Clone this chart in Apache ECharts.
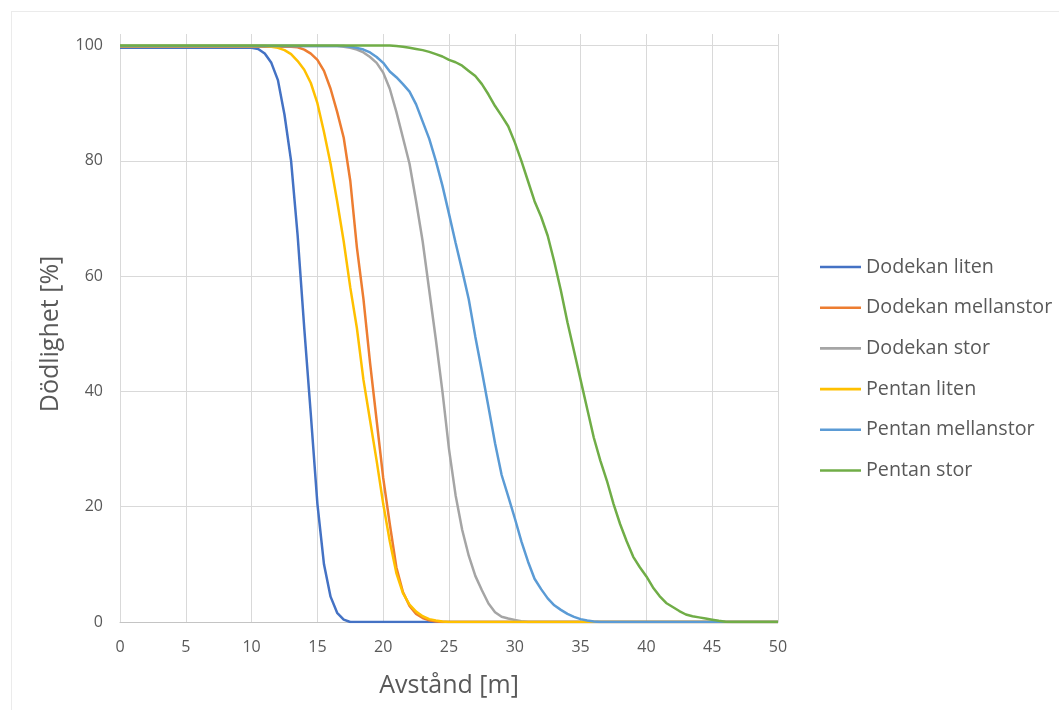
<!DOCTYPE html>
<html>
<head>
<meta charset="utf-8">
<script src="https://cdn.jsdelivr.net/npm/echarts@6/dist/echarts.min.js"></script>
<style>html,body{margin:0;padding:0;background:#fff;}#c{width:1059px;height:710px;}</style>
</head>
<body>
<div id="c"></div>
<script>
const seriesNames = ['Dodekan liten', 'Dodekan mellanstor', 'Dodekan stor', 'Pentan liten', 'Pentan mellanstor', 'Pentan stor'];
const xTicks = [0, 5, 10, 15, 20, 25, 30, 35, 40, 45, 50];
const yTicks = [0, 20, 40, 60, 80, 100];

const dodekanLitenX = [0, 10, 10.5, 11, 11.5, 12, 12.5, 13, 13.5, 14, 14.5, 15, 15.5, 16, 16.5, 17, 17.5, 50];
const dodekanLitenY = [99.6, 99.6, 99.4, 98.6, 97, 94, 88, 80, 67, 51, 36, 20.5, 10, 4.4, 1.6, 0.4, 0, 0];

const dodekanMellanX = [0, 13, 13.5, 14, 14.5, 15, 15.5, 16, 16.5, 17, 17.5, 18, 18.5, 19, 19.5, 20, 20.5, 21, 21.5, 22, 22.5, 23, 23.5, 24, 24.5, 50];
const dodekanMellanY = [99.8, 99.8, 99.7, 99.3, 98.6, 97.5, 95.6, 92.5, 88.5, 84, 76.5, 65, 56, 45, 35, 25, 17, 9.5, 5.2, 2.8, 1.4, 0.7, 0.3, 0.1, 0, 0];

const dodekanStorX = [0, 16.5, 17, 17.5, 18, 18.5, 19, 19.5, 20, 20.5, 21, 21.5, 22, 22.5, 23, 23.5, 24, 24.5, 25, 25.5, 26, 26.5, 27, 27.5, 28, 28.5, 29, 29.5, 30, 30.5, 31, 50];
const dodekanStorY = [99.9, 99.9, 99.8, 99.6, 99.3, 98.8, 98, 97, 95.3, 92.5, 88.5, 84, 79.5, 73, 66, 57.5, 49, 40, 30, 22, 16, 11.5, 8, 5.5, 3.2, 1.7, 0.9, 0.6, 0.35, 0.15, 0, 0];

const pentanLitenX = [0, 11, 11.5, 12, 12.5, 13, 13.5, 14, 14.5, 15, 15.5, 16, 16.5, 17, 17.5, 18, 18.5, 19, 19.5, 20, 20.5, 21, 21.5, 22, 22.5, 23, 23.5, 24, 24.5, 25, 50];
const pentanLitenY = [99.9, 99.9, 99.8, 99.6, 99.2, 98.5, 97.3, 95.8, 93.5, 90, 85, 79.5, 73, 66, 58, 51, 42, 35, 28, 20.5, 14, 8.5, 5, 3, 1.8, 1, 0.5, 0.25, 0.1, 0, 0];

const pentanMellanX = [0, 17, 17.5, 18, 18.5, 19, 19.5, 20, 20.5, 21, 21.5, 22, 22.5, 23, 23.5, 24, 24.5, 25, 25.5, 26, 26.5, 27, 27.5, 28, 28.5, 29, 29.5, 30, 30.5, 31, 31.5, 32, 32.5, 33, 33.5, 34, 34.5, 35, 35.5, 36, 36.5, 50];
const pentanMellanY = [99.9, 99.9, 99.8, 99.6, 99.3, 98.8, 98, 97, 95.5, 94.5, 93.3, 92, 89.8, 86.8, 83.8, 80, 75.7, 70.8, 65.8, 61, 56, 49.5, 43.5, 37.3, 31, 25.5, 21.8, 18, 14, 10.5, 7.5, 5.7, 4.1, 2.9, 2.1, 1.4, 0.9, 0.5, 0.25, 0.1, 0, 0];

const pentanStorX = [0, 20.5, 21, 21.5, 22, 22.5, 23, 23.5, 24, 24.5, 25, 25.5, 26, 26.5, 27, 27.5, 28, 28.5, 29, 29.5, 30, 30.5, 31, 31.5, 32, 32.5, 33, 33.5, 34, 34.5, 35, 35.5, 36, 36.5, 37, 37.5, 38, 38.5, 39, 39.5, 40, 40.5, 41, 41.5, 42, 42.5, 43, 43.5, 44, 44.5, 45, 45.5, 46, 46.5, 50];
const pentanStorY = [100, 100, 99.9, 99.8, 99.6, 99.4, 99.2, 98.9, 98.5, 98.1, 97.5, 97.1, 96.5, 95.6, 94.7, 93.3, 91.5, 89.5, 87.8, 86, 83.2, 80, 76.5, 73, 70.3, 67, 62.5, 57.5, 52, 47, 42, 37, 32, 28, 24.5, 20.5, 17, 14, 11.3, 9.5, 7.9, 6, 4.5, 3.3, 2.6, 1.9, 1.3, 1, 0.8, 0.6, 0.4, 0.2, 0.05, 0, 0];

const colors = ['#4472C4', '#ED7D31', '#A5A5A5', '#FFC000', '#5B9BD5', '#70AD47'];
const xs = [dodekanLitenX, dodekanMellanX, dodekanStorX, pentanLitenX, pentanMellanX, pentanStorX];
const ys = [dodekanLitenY, dodekanMellanY, dodekanStorY, pentanLitenY, pentanMellanY, pentanStorY];

const FONT = '"Open Sans", "DejaVu Sans", sans-serif';
const chart = echarts.init(document.getElementById('c'), null, {renderer: 'canvas'});
chart.setOption({
  backgroundColor: '#ffffff',
  animation: false,
  color: colors,
  graphic: [
    {type: 'line', shape: {x1: 11, y1: 11.5, x2: 1059, y2: 11.5}, style: {stroke: '#ebebeb', lineWidth: 1}},
    {type: 'line', shape: {x1: 11.5, y1: 11, x2: 11.5, y2: 710}, style: {stroke: '#ebebeb', lineWidth: 1}},
    {type: 'text', x: 51, y: 334, rotation: Math.PI / 2,
      style: {text: 'Dödlighet [%]', fontFamily: FONT, fontSize: 25, fill: '#595959', align: 'center', verticalAlign: 'middle'}}
  ],
  grid: {left: 120, top: 34, width: 658, height: 588, containLabel: false},
  legend: {
    orient: 'vertical',
    left: 820,
    top: 257,
    padding: 0,
    itemWidth: 41,
    itemHeight: 19.7,
    itemGap: 20.7,
    itemStyle: {borderWidth: 0},
    textStyle: {fontFamily: FONT, fontSize: 19.7, lineHeight: 19.7, color: '#595959', padding: [0, 0, 0, 0]},
    data: seriesNames.map((n, i) => ({name: n, icon: 'path://M0,8.7 L41,8.7 L41,11.3 L0,11.3 Z'}))
  },
  xAxis: {
    type: 'value',
    min: 0, max: 50, interval: 5,
    name: 'Avstånd [m]',
    nameLocation: 'middle',
    nameGap: 51,
    nameTextStyle: {fontFamily: FONT, fontSize: 25, color: '#595959'},
    axisLine: {show: true, lineStyle: {color: '#c4c4c4', width: 1}},
    axisTick: {show: false},
    axisLabel: {fontFamily: FONT, fontSize: 16, color: '#595959', margin: 17,
      formatter: v => xTicks.indexOf(v) >= 0 ? String(v) : ''},
    splitLine: {show: true, lineStyle: {color: '#d9d9d9', width: 1}}
  },
  yAxis: {
    type: 'value',
    min: 0, max: 102, interval: 20,
    axisLine: {show: false},
    axisTick: {show: false},
    axisLabel: {fontFamily: FONT, fontSize: 16, color: '#595959', margin: 17, showMaxLabel: false,
      formatter: v => yTicks.indexOf(v) >= 0 ? String(v) : ''},
    splitLine: {show: true, showMaxLine: false, lineStyle: {color: '#d9d9d9', width: 1}}
  },
  series: seriesNames.map((n, i) => ({
    name: n,
    type: 'line',
    data: xs[i].map((x, j) => [x, ys[i][j]]),
    showSymbol: false,
    symbol: 'none',
    smooth: false,
    lineStyle: {width: 2.5, color: colors[i]},
    itemStyle: {color: colors[i]}
  }))
});
</script>
</body>
</html>
